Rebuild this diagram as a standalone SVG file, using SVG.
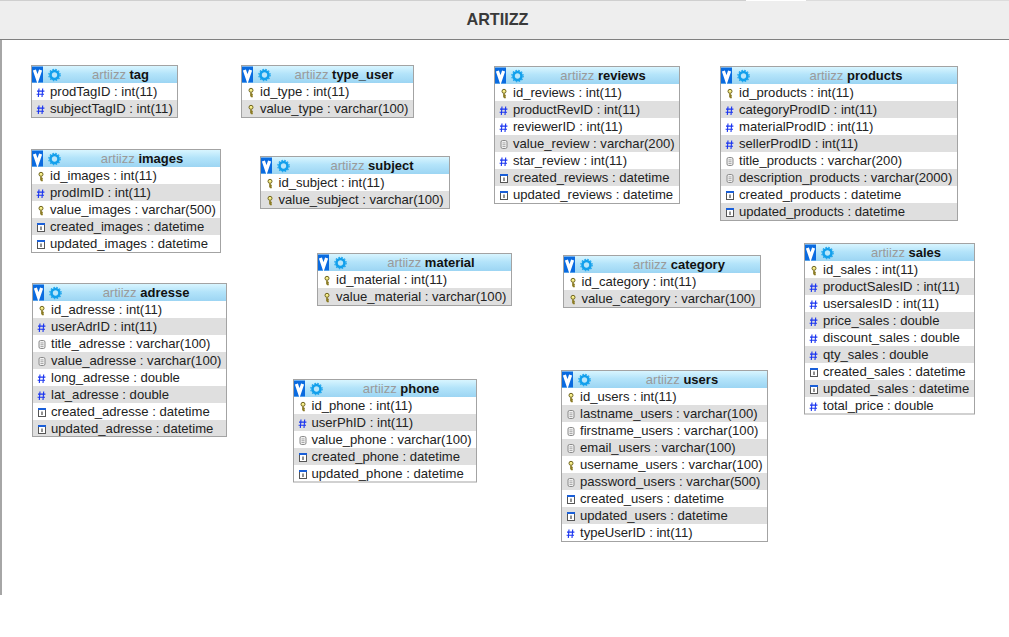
<svg xmlns="http://www.w3.org/2000/svg" xmlns:xlink="http://www.w3.org/1999/xlink" width="1009" height="637" viewBox="0 0 1009 637">
<style>
text{font-family:"Liberation Sans",Arial,sans-serif}
.f{font-size:13.1px;fill:#222}
.h{font-size:13px;text-anchor:middle;font-weight:bold;fill:#111}
.h .s{fill:#9a9a9a;font-weight:normal}
.box{fill:none;stroke:#a3a3a3;stroke-width:1}
.alt{fill:#dfdfdf}
.bg{fill:#fff}
</style>
<defs>
<linearGradient id="hg" x1="0" y1="0" x2="0" y2="1"><stop offset="0" stop-color="#d8f5ff"/><stop offset="0.45" stop-color="#b4e4fa"/><stop offset="1" stop-color="#9cd5f3"/></linearGradient>
<g id="v"><rect x="0" y="0" width="11" height="16" fill="#0a6be0"/><path d="M2.4 3.5 L5.5 12.5 L8.6 3.5" fill="none" stroke="#fff" stroke-width="3.2"/></g>
<g id="gear"><circle cx="0" cy="0" r="4" fill="#b9e6fb" stroke="#13a0ec" stroke-width="2.6"/><circle cx="0" cy="0" r="5.7" fill="none" stroke="#13a0ec" stroke-width="1.1" stroke-dasharray="1.5 1.5"/></g>
<g id="key"><circle cx="0" cy="-2.2" r="2" fill="#f6ee8a" stroke="#6f6420" stroke-width="1"/><path d="M0 0V4M0 2H1.8M0 3.8H1.8" fill="none" stroke="#8a7a22" stroke-width="1.7"/></g>
<g id="num"><path d="M-2 -4L-2.7 4.5M1.7 -4L1 4.5M-4 -1.4H3.4M-4.4 1.8H3" fill="none" stroke="#1a35f0" stroke-width="1.1"/></g>
<g id="txt"><rect x="-3" y="-4" width="6" height="8" rx="1.6" fill="#f2f2f2" stroke="#8a8a8a" stroke-width="1"/><path d="M-1.5 -1.6H1.5M-1.5 0.2H1.5M-1.5 2H1.5" stroke="#8a8a8a" stroke-width="0.7"/></g>
<g id="dt"><rect x="-3.5" y="-3.5" width="7" height="7.5" fill="#fff" stroke="#555" stroke-width="1"/><path d="M-4 -3.5H4" stroke="#1a5fd8" stroke-width="2"/><path d="M0 -1V2.5" stroke="#222" stroke-width="1"/></g>
</defs>
<rect x="0" y="0" width="1009" height="637" fill="#fff"/>
<rect x="0" y="0" width="1009" height="39.5" fill="#eeeeee"/>
<rect x="0" y="0" width="746" height="1" fill="#cfcfcf"/>
<rect x="746" y="0" width="60" height="1" fill="#fff"/>
<rect x="806" y="0" width="203" height="1" fill="#dcdcdc"/>
<path d="M0 39.500H1009" stroke="#808080" stroke-width="1"/>
<path d="M1 39.500V595" stroke="#808080" stroke-width="1.4"/>
<text x="497.500" y="24.500" text-anchor="middle" font-size="16.200" font-weight="bold" fill="#3a3a3a">ARTIIZZ</text>
<g id="connectors"/>

<g id="tag"><rect class="bg" x="32" y="66" width="146" height="51"/><rect x="32" y="66" width="146" height="17" fill="url(#hg)"/><rect class="alt" x="32" y="100" width="146" height="17"/><use href="#v" x="32" y="66.500"/><use href="#gear" x="54.500" y="75"/><text class="h" x="120.500" y="79"><tspan class="s">artiizz</tspan> tag</text>
<use href="#num" x="41" y="92.500"/><text class="f" x="50" y="96">prodTagID : int(11)</text>
<use href="#num" x="41" y="109.500"/><text class="f" x="50" y="113">subjectTagID : int(11)</text><rect class="box" x="31.500" y="65.500" width="146" height="52"/></g>

<g id="type_user"><rect class="bg" x="242" y="66" width="172" height="51"/><rect x="242" y="66" width="172" height="17" fill="url(#hg)"/><rect class="alt" x="242" y="100" width="172" height="17"/><use href="#v" x="242" y="66.500"/><use href="#gear" x="264.500" y="75"/><text class="h" x="344" y="79"><tspan class="s">artiizz</tspan> type_user</text>
<use href="#key" x="251" y="92.500"/><text class="f" x="260" y="96">id_type : int(11)</text>
<use href="#key" x="251" y="109.500"/><text class="f" x="260" y="113">value_type : varchar(100)</text><rect class="box" x="241.500" y="65.500" width="172" height="52"/></g>

<g id="reviews"><rect class="bg" x="495" y="67" width="185" height="137"/><rect x="495" y="67" width="185" height="17" fill="url(#hg)"/><rect class="alt" x="495" y="101" width="185" height="17"/><rect class="alt" x="495" y="135" width="185" height="17"/><rect class="alt" x="495" y="169" width="185" height="17"/><use href="#v" x="495" y="67.500"/><use href="#gear" x="517.500" y="76"/><text class="h" x="603" y="80"><tspan class="s">artiizz</tspan> reviews</text>
<use href="#key" x="504" y="93.500"/><text class="f" x="513" y="97">id_reviews : int(11)</text>
<use href="#num" x="504" y="110.500"/><text class="f" x="513" y="114">productRevID : int(11)</text>
<use href="#num" x="504" y="127.500"/><text class="f" x="513" y="131">reviewerID : int(11)</text>
<use href="#txt" x="504" y="144.500"/><text class="f" x="513" y="148">value_review : varchar(200)</text>
<use href="#num" x="504" y="161.500"/><text class="f" x="513" y="165">star_review : int(11)</text>
<use href="#dt" x="504" y="178.500"/><text class="f" x="513" y="182">created_reviews : datetime</text>
<use href="#dt" x="504" y="195.500"/><text class="f" x="513" y="199">updated_reviews : datetime</text><rect class="box" x="494.500" y="66.500" width="185" height="137"/></g>

<g id="products"><rect class="bg" x="721" y="67" width="237" height="154"/><rect x="721" y="67" width="237" height="17" fill="url(#hg)"/><rect class="alt" x="721" y="101" width="237" height="17"/><rect class="alt" x="721" y="135" width="237" height="17"/><rect class="alt" x="721" y="169" width="237" height="17"/><rect class="alt" x="721" y="203" width="237" height="17"/><use href="#v" x="721" y="67.500"/><use href="#gear" x="743.500" y="76"/><text class="h" x="856" y="80"><tspan class="s">artiizz</tspan> products</text>
<use href="#key" x="730" y="93.500"/><text class="f" x="739" y="97">id_products : int(11)</text>
<use href="#num" x="730" y="110.500"/><text class="f" x="739" y="114">categoryProdID : int(11)</text>
<use href="#num" x="730" y="127.500"/><text class="f" x="739" y="131">materialProdID : int(11)</text>
<use href="#num" x="730" y="144.500"/><text class="f" x="739" y="148">sellerProdID : int(11)</text>
<use href="#txt" x="730" y="161.500"/><text class="f" x="739" y="165">title_products : varchar(200)</text>
<use href="#txt" x="730" y="178.500"/><text class="f" x="739" y="182">description_products : varchar(2000)</text>
<use href="#dt" x="730" y="195.500"/><text class="f" x="739" y="199">created_products : datetime</text>
<use href="#dt" x="730" y="212.500"/><text class="f" x="739" y="216">updated_products : datetime</text><rect class="box" x="720.500" y="66.500" width="237" height="154"/></g>

<g id="images"><rect class="bg" x="32" y="150" width="189" height="103"/><rect x="32" y="150" width="189" height="17" fill="url(#hg)"/><rect class="alt" x="32" y="184" width="189" height="17"/><rect class="alt" x="32" y="218" width="189" height="17"/><use href="#v" x="32" y="150.500"/><use href="#gear" x="54.500" y="159"/><text class="h" x="142" y="163"><tspan class="s">artiizz</tspan> images</text>
<use href="#key" x="41" y="176.500"/><text class="f" x="50" y="180">id_images : int(11)</text>
<use href="#num" x="41" y="193.500"/><text class="f" x="50" y="197">prodImID : int(11)</text>
<use href="#key" x="41" y="210.500"/><text class="f" x="50" y="214">value_images : varchar(500)</text>
<use href="#dt" x="41" y="227.500"/><text class="f" x="50" y="231">created_images : datetime</text>
<use href="#dt" x="41" y="244.500"/><text class="f" x="50" y="248">updated_images : datetime</text><rect class="box" x="31.500" y="149.500" width="189" height="103"/></g>

<g id="subject"><rect class="bg" x="261" y="157" width="189" height="51"/><rect x="261" y="157" width="189" height="17" fill="url(#hg)"/><rect class="alt" x="261" y="191" width="189" height="17"/><use href="#v" x="261" y="157.500"/><use href="#gear" x="283.500" y="166"/><text class="h" x="372" y="170"><tspan class="s">artiizz</tspan> subject</text>
<use href="#key" x="270" y="183.500"/><text class="f" x="278.500" y="187">id_subject : int(11)</text>
<use href="#key" x="270" y="200.500"/><text class="f" x="278.500" y="204">value_subject : varchar(100)</text><rect class="box" x="260.500" y="156.500" width="189" height="52"/></g>

<g id="adresse"><rect class="bg" x="33" y="284" width="194" height="153"/><rect x="33" y="284" width="194" height="17" fill="url(#hg)"/><rect class="alt" x="33" y="318" width="194" height="17"/><rect class="alt" x="33" y="352" width="194" height="17"/><rect class="alt" x="33" y="386" width="194" height="17"/><rect class="alt" x="33" y="420" width="194" height="17"/><use href="#v" x="33" y="284.500"/><use href="#gear" x="55.500" y="293"/><text class="h" x="146" y="297"><tspan class="s">artiizz</tspan> adresse</text>
<use href="#key" x="42" y="310.500"/><text class="f" x="51" y="314">id_adresse : int(11)</text>
<use href="#num" x="42" y="327.500"/><text class="f" x="51" y="331">userAdrID : int(11)</text>
<use href="#txt" x="42" y="344.500"/><text class="f" x="51" y="348">title_adresse : varchar(100)</text>
<use href="#txt" x="42" y="361.500"/><text class="f" x="51" y="365">value_adresse : varchar(100)</text>
<use href="#num" x="42" y="378.500"/><text class="f" x="51" y="382">long_adresse : double</text>
<use href="#num" x="42" y="395.500"/><text class="f" x="51" y="399">lat_adresse : double</text>
<use href="#dt" x="42" y="412.500"/><text class="f" x="51" y="416">created_adresse : datetime</text>
<use href="#dt" x="42" y="429.500"/><text class="f" x="51" y="433">updated_adresse : datetime</text><rect class="box" x="32.500" y="283.500" width="194" height="153"/></g>

<g id="material"><rect class="bg" x="318" y="254" width="194" height="51"/><rect x="318" y="254" width="194" height="17" fill="url(#hg)"/><rect class="alt" x="318" y="288" width="194" height="17"/><use href="#v" x="318" y="254.500"/><use href="#gear" x="340.500" y="263"/><text class="h" x="431" y="267"><tspan class="s">artiizz</tspan> material</text>
<use href="#key" x="327" y="280.500"/><text class="f" x="336" y="284">id_material : int(11)</text>
<use href="#key" x="327" y="297.500"/><text class="f" x="336" y="301">value_material : varchar(100)</text><rect class="box" x="317.500" y="253.500" width="194" height="52"/></g>

<g id="category"><rect class="bg" x="564" y="256" width="197" height="51"/><rect x="564" y="256" width="197" height="17" fill="url(#hg)"/><rect class="alt" x="564" y="290" width="197" height="17"/><use href="#v" x="564" y="256.500"/><use href="#gear" x="586.500" y="265"/><text class="h" x="679" y="269"><tspan class="s">artiizz</tspan> category</text>
<use href="#key" x="573" y="282.500"/><text class="f" x="581.500" y="286">id_category : int(11)</text>
<use href="#key" x="573" y="299.500"/><text class="f" x="581.500" y="303">value_category : varchar(100)</text><rect class="box" x="563.500" y="255.500" width="197" height="52"/></g>

<g id="phone"><rect class="bg" x="294" y="380" width="183" height="102"/><rect x="294" y="380" width="183" height="17" fill="url(#hg)"/><rect class="alt" x="294" y="414" width="183" height="17"/><rect class="alt" x="294" y="448" width="183" height="17"/><use href="#v" x="294" y="380.500"/><use href="#gear" x="316.500" y="389"/><text class="h" x="401" y="393"><tspan class="s">artiizz</tspan> phone</text>
<use href="#key" x="303" y="406.500"/><text class="f" x="311.500" y="410">id_phone : int(11)</text>
<use href="#num" x="303" y="423.500"/><text class="f" x="311.500" y="427">userPhID : int(11)</text>
<use href="#txt" x="303" y="440.500"/><text class="f" x="311.500" y="444">value_phone : varchar(100)</text>
<use href="#dt" x="303" y="457.500"/><text class="f" x="311.500" y="461">created_phone : datetime</text>
<use href="#dt" x="303" y="474.500"/><text class="f" x="311.500" y="478">updated_phone : datetime</text><rect class="box" x="293.500" y="379.500" width="183" height="102.500"/></g>

<g id="users"><rect class="bg" x="562" y="371" width="206" height="171"/><rect x="562" y="371" width="206" height="17" fill="url(#hg)"/><rect class="alt" x="562" y="405" width="206" height="17"/><rect class="alt" x="562" y="439" width="206" height="17"/><rect class="alt" x="562" y="473" width="206" height="17"/><rect class="alt" x="562" y="507" width="206" height="17"/><use href="#v" x="562" y="371.500"/><use href="#gear" x="584.500" y="380"/><text class="h" x="682" y="384"><tspan class="s">artiizz</tspan> users</text>
<use href="#key" x="571" y="397.500"/><text class="f" x="580" y="401">id_users : int(11)</text>
<use href="#txt" x="571" y="414.500"/><text class="f" x="580" y="418">lastname_users : varchar(100)</text>
<use href="#txt" x="571" y="431.500"/><text class="f" x="580" y="435">firstname_users : varchar(100)</text>
<use href="#txt" x="571" y="448.500"/><text class="f" x="580" y="452">email_users : varchar(100)</text>
<use href="#key" x="571" y="465.500"/><text class="f" x="580" y="469">username_users : varchar(100)</text>
<use href="#txt" x="571" y="482.500"/><text class="f" x="580" y="486">password_users : varchar(500)</text>
<use href="#dt" x="571" y="499.500"/><text class="f" x="580" y="503">created_users : datetime</text>
<use href="#dt" x="571" y="516.500"/><text class="f" x="580" y="520">updated_users : datetime</text>
<use href="#num" x="571" y="533.500"/><text class="f" x="580" y="537">typeUserID : int(11)</text><rect class="box" x="561.500" y="370.500" width="206" height="171"/></g>

<g id="sales"><rect class="bg" x="805" y="244" width="170" height="170"/><rect x="805" y="244" width="170" height="17" fill="url(#hg)"/><rect class="alt" x="805" y="278" width="170" height="17"/><rect class="alt" x="805" y="312" width="170" height="17"/><rect class="alt" x="805" y="346" width="170" height="17"/><rect class="alt" x="805" y="380" width="170" height="17"/><use href="#v" x="805" y="244.500"/><use href="#gear" x="827.500" y="253"/><text class="h" x="906" y="257"><tspan class="s">artiizz</tspan> sales</text>
<use href="#key" x="814" y="270.500"/><text class="f" x="823" y="274">id_sales : int(11)</text>
<use href="#num" x="814" y="287.500"/><text class="f" x="823" y="291">productSalesID : int(11)</text>
<use href="#num" x="814" y="304.500"/><text class="f" x="823" y="308">usersalesID : int(11)</text>
<use href="#num" x="814" y="321.500"/><text class="f" x="823" y="325">price_sales : double</text>
<use href="#num" x="814" y="338.500"/><text class="f" x="823" y="342">discount_sales : double</text>
<use href="#num" x="814" y="355.500"/><text class="f" x="823" y="359">qty_sales : double</text>
<use href="#dt" x="814" y="372.500"/><text class="f" x="823" y="376">created_sales : datetime</text>
<use href="#dt" x="814" y="389.500"/><text class="f" x="823" y="393">updated_sales : datetime</text>
<use href="#num" x="814" y="406.500"/><text class="f" x="823" y="410">total_price : double</text><rect class="box" x="804.500" y="243.500" width="170" height="170.500"/></g>
</svg>
